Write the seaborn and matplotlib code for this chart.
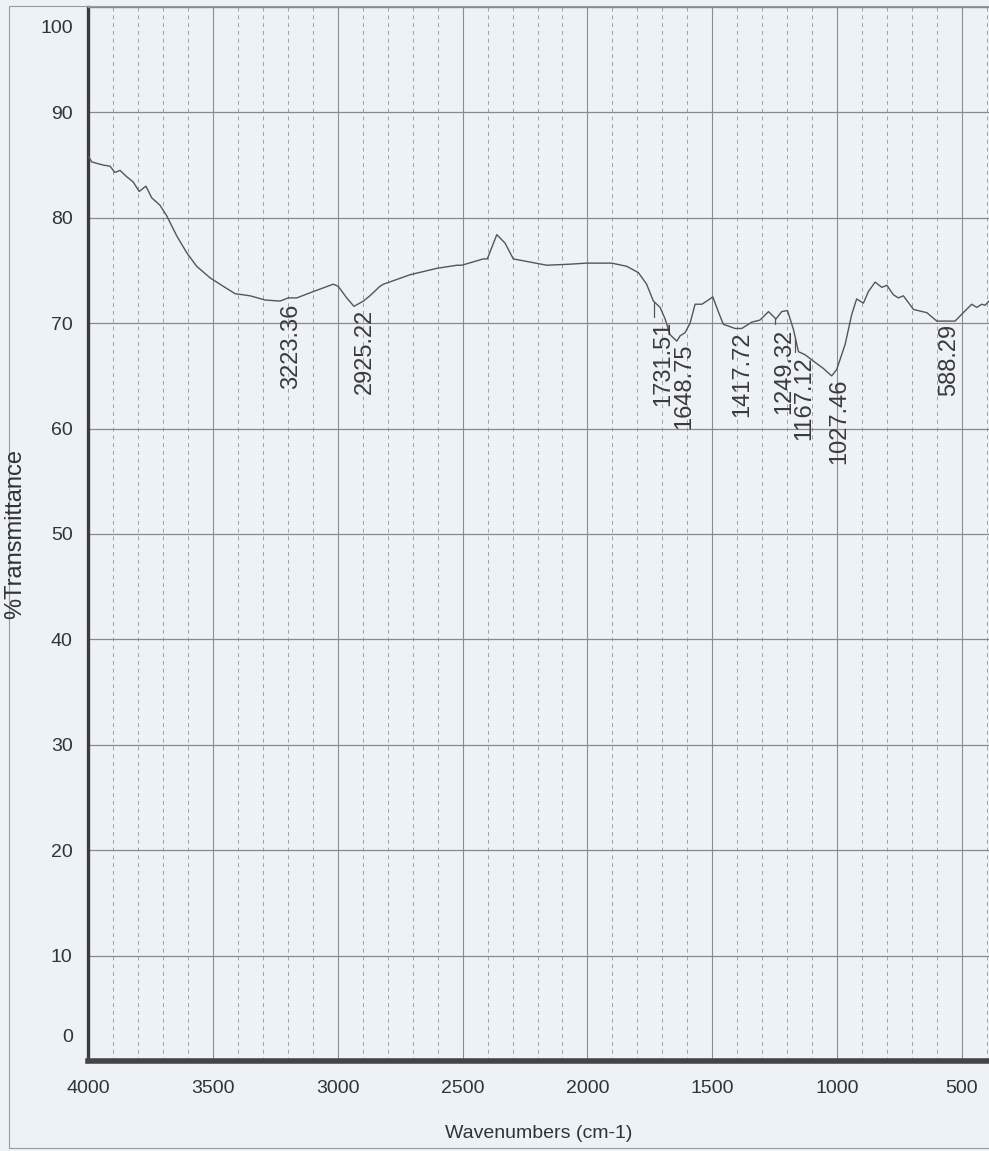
import numpy as np
import pandas as pd
import matplotlib
matplotlib.use("Agg")
import matplotlib.pyplot as plt
import matplotlib.patches as patches
from matplotlib.ticker import MultipleLocator, NullFormatter, FuncFormatter
import seaborn as sns

# =========================================
# DATA
# =========================================

wavenumber = [4000, 3985, 3939, 3912, 3892, 3872, 3845, 3819, 3795, 3768,
              3745, 3712, 3685, 3645, 3605, 3565, 3511, 3465, 3411, 3351,
              3291, 3231, 3198, 3164, 3098, 3018, 2998, 2964, 2935, 2897,
              2871, 2831, 2817, 2710, 2604, 2523, 2503, 2417, 2401, 2363,
              2330, 2297, 2230, 2163, 2070, 2003, 1903, 1843, 1796, 1763,
              1736, 1709, 1689, 1669, 1642, 1629, 1609, 1589, 1569, 1542,
              1522, 1498, 1476, 1456, 1409, 1382, 1342, 1309, 1275, 1245,
              1222, 1199, 1175, 1155, 1128, 1095, 1055, 1022, 1002, 968,
              942, 922, 895, 875, 848, 821, 801, 775, 755, 735,
              694, 641, 601, 548, 528, 495, 461, 441, 421, 408, 392]

transmittance = [85.9, 85.3, 85.0, 84.9, 84.3, 84.5, 83.9, 83.4, 82.5, 83.0,
                 81.9, 81.2, 80.2, 78.3, 76.7, 75.4, 74.3, 73.6, 72.8, 72.6,
                 72.2, 72.1, 72.4, 72.4, 73.0, 73.7, 73.5, 72.4, 71.6, 72.1,
                 72.6, 73.5, 73.7, 74.6, 75.2, 75.5, 75.5, 76.1, 76.1, 78.4,
                 77.6, 76.1, 75.8, 75.5, 75.6, 75.7, 75.7, 75.4, 74.8, 73.7,
                 72.1, 71.5, 70.4, 68.9, 68.3, 68.8, 69.1, 70.0, 71.8, 71.8,
                 72.1, 72.5, 71.1, 69.9, 69.5, 69.5, 70.1, 70.3, 71.1, 70.4,
                 71.1, 71.2, 69.4, 67.3, 67.0, 66.4, 65.7, 65.0, 65.6, 68.0,
                 70.8, 72.3, 71.9, 73.0, 73.9, 73.4, 73.6, 72.7, 72.4, 72.6,
                 71.3, 71.0, 70.2, 70.2, 70.2, 71.0, 71.8, 71.5, 71.8, 71.7, 72.1]

peak_labels = ["3223.36", "2925.22", "1731.51", "1648.75", "1417.72",
               "1249.32", "1167.12", "1027.46", "588.29"]
peak_top = [71.9, 71.4, 70.2, 68.1, 69.2, 69.5, 66.9, 64.8, 69.9]

y_ticks = list(range(0, 101, 10))
x_ticks = [4000, 3500, 3000, 2500, 2000, 1500, 1000, 500]

df = pd.DataFrame({"wavenumber": wavenumber, "transmittance": transmittance})

# =========================================
# STYLE
# =========================================

paper = "#edf2f7"
ink = "#4a4a4a"

sns.set_style("white", {"axes.facecolor": paper, "figure.facecolor": paper})
plt.rcParams['font.family'] = ['Liberation Sans Narrow', 'Liberation Sans', 'DejaVu Sans']

fig = plt.figure(figsize=(9.89, 11.51), dpi=100)
ax = fig.add_axes([88 / 989, 1 - 1061 / 1151, (989 - 88) / 989, (1061 - 7) / 1151])

# page frame of the scan
fig.patches.append(patches.Rectangle((9 / 989, 3 / 1151), 1.0, 1 - 9 / 1151,
                                     transform=fig.transFigure, fill=False,
                                     edgecolor="#9a9a9a", linewidth=0.8))

# =========================================
# GRID
# =========================================

for x in range(3900, 391, -100):
    if x % 500 == 0:
        ax.axvline(x, color="#8c8c8c", linewidth=0.8, zorder=1)
    else:
        ax.axvline(x, color="#a0a0a0", linewidth=0.7, linestyle=(0, (4, 4)), zorder=1)

for y in range(10, 100, 10):
    ax.axhline(y, color="#8a8a8a", linewidth=0.9, zorder=1)

# =========================================
# SPECTRUM
# =========================================

sns.lineplot(data=df, x="wavenumber", y="transmittance", ax=ax,
             color="#555555", linewidth=1.0, zorder=3)

# peak labels with short marker lines
curve_x = np.array(wavenumber[::-1], dtype=float)
curve_y = np.array(transmittance[::-1], dtype=float)
for lab, top in zip(peak_labels, peak_top):
    xp = float(lab)
    yc = np.interp(xp, curve_x, curve_y)
    if yc - top > 0.8:
        ax.plot([xp, xp], [yc, top + 0.4], color="#555555", linewidth=0.9, zorder=3)
    ax.annotate(lab, xy=(xp, top), xytext=(-1.5, 0), textcoords="offset points",
                rotation=90, ha="left", va="top", fontsize=17, color="#3a3a3a",
                family=['Liberation Sans', 'DejaVu Sans'])

# =========================================
# AXES
# =========================================

ax.set_xlim(4000, 392)
ax.set_ylim(0, 100)

ax.set_xticks(x_ticks)
ax.set_yticks(y_ticks)
ax.yaxis.set_minor_locator(MultipleLocator(2))
ax.yaxis.set_major_formatter(FuncFormatter(lambda v, p: "" if v in (0, 100) else f"{v:.0f}"))
ax.yaxis.set_minor_formatter(NullFormatter())

ax.tick_params(axis="both", which="major", direction="out", length=8, width=0.9,
               color=ink, labelsize=14, labelcolor="#333333", pad=3)
ax.tick_params(axis="y", which="minor", direction="out", length=5, width=0.8, color=ink)
ax.tick_params(axis="x", which="major", length=8, pad=6)

# end labels sit inside the range like on the instrument printout
for val, pos in [("100", 98), ("0", 2.2)]:
    ax.annotate(val, xy=(0, pos), xycoords=("axes fraction", "data"),
                xytext=(-11, 0), textcoords="offset points",
                ha="right", va="center", fontsize=14, color="#333333")

ax.spines["left"].set_linewidth(2.4)
ax.spines["left"].set_color("#3c3c3c")
ax.spines["bottom"].set_linewidth(4.0)
ax.spines["bottom"].set_color("#444444")
ax.spines["top"].set_linewidth(1.0)
ax.spines["top"].set_color("#8a8a8a")
ax.spines["right"].set_visible(False)

ax.set_xlabel("Wavenumbers (cm-1)", fontsize=14, color="#333333", labelpad=20)
ax.set_ylabel("")
fig.text(15 / 989, 1 - 534 / 1151, "%Transmittance", rotation=90, ha="center",
         va="center", fontsize=17, color="#333333", family=['Liberation Sans', 'DejaVu Sans'])

plt.savefig("out.png", dpi=100, facecolor=paper)
